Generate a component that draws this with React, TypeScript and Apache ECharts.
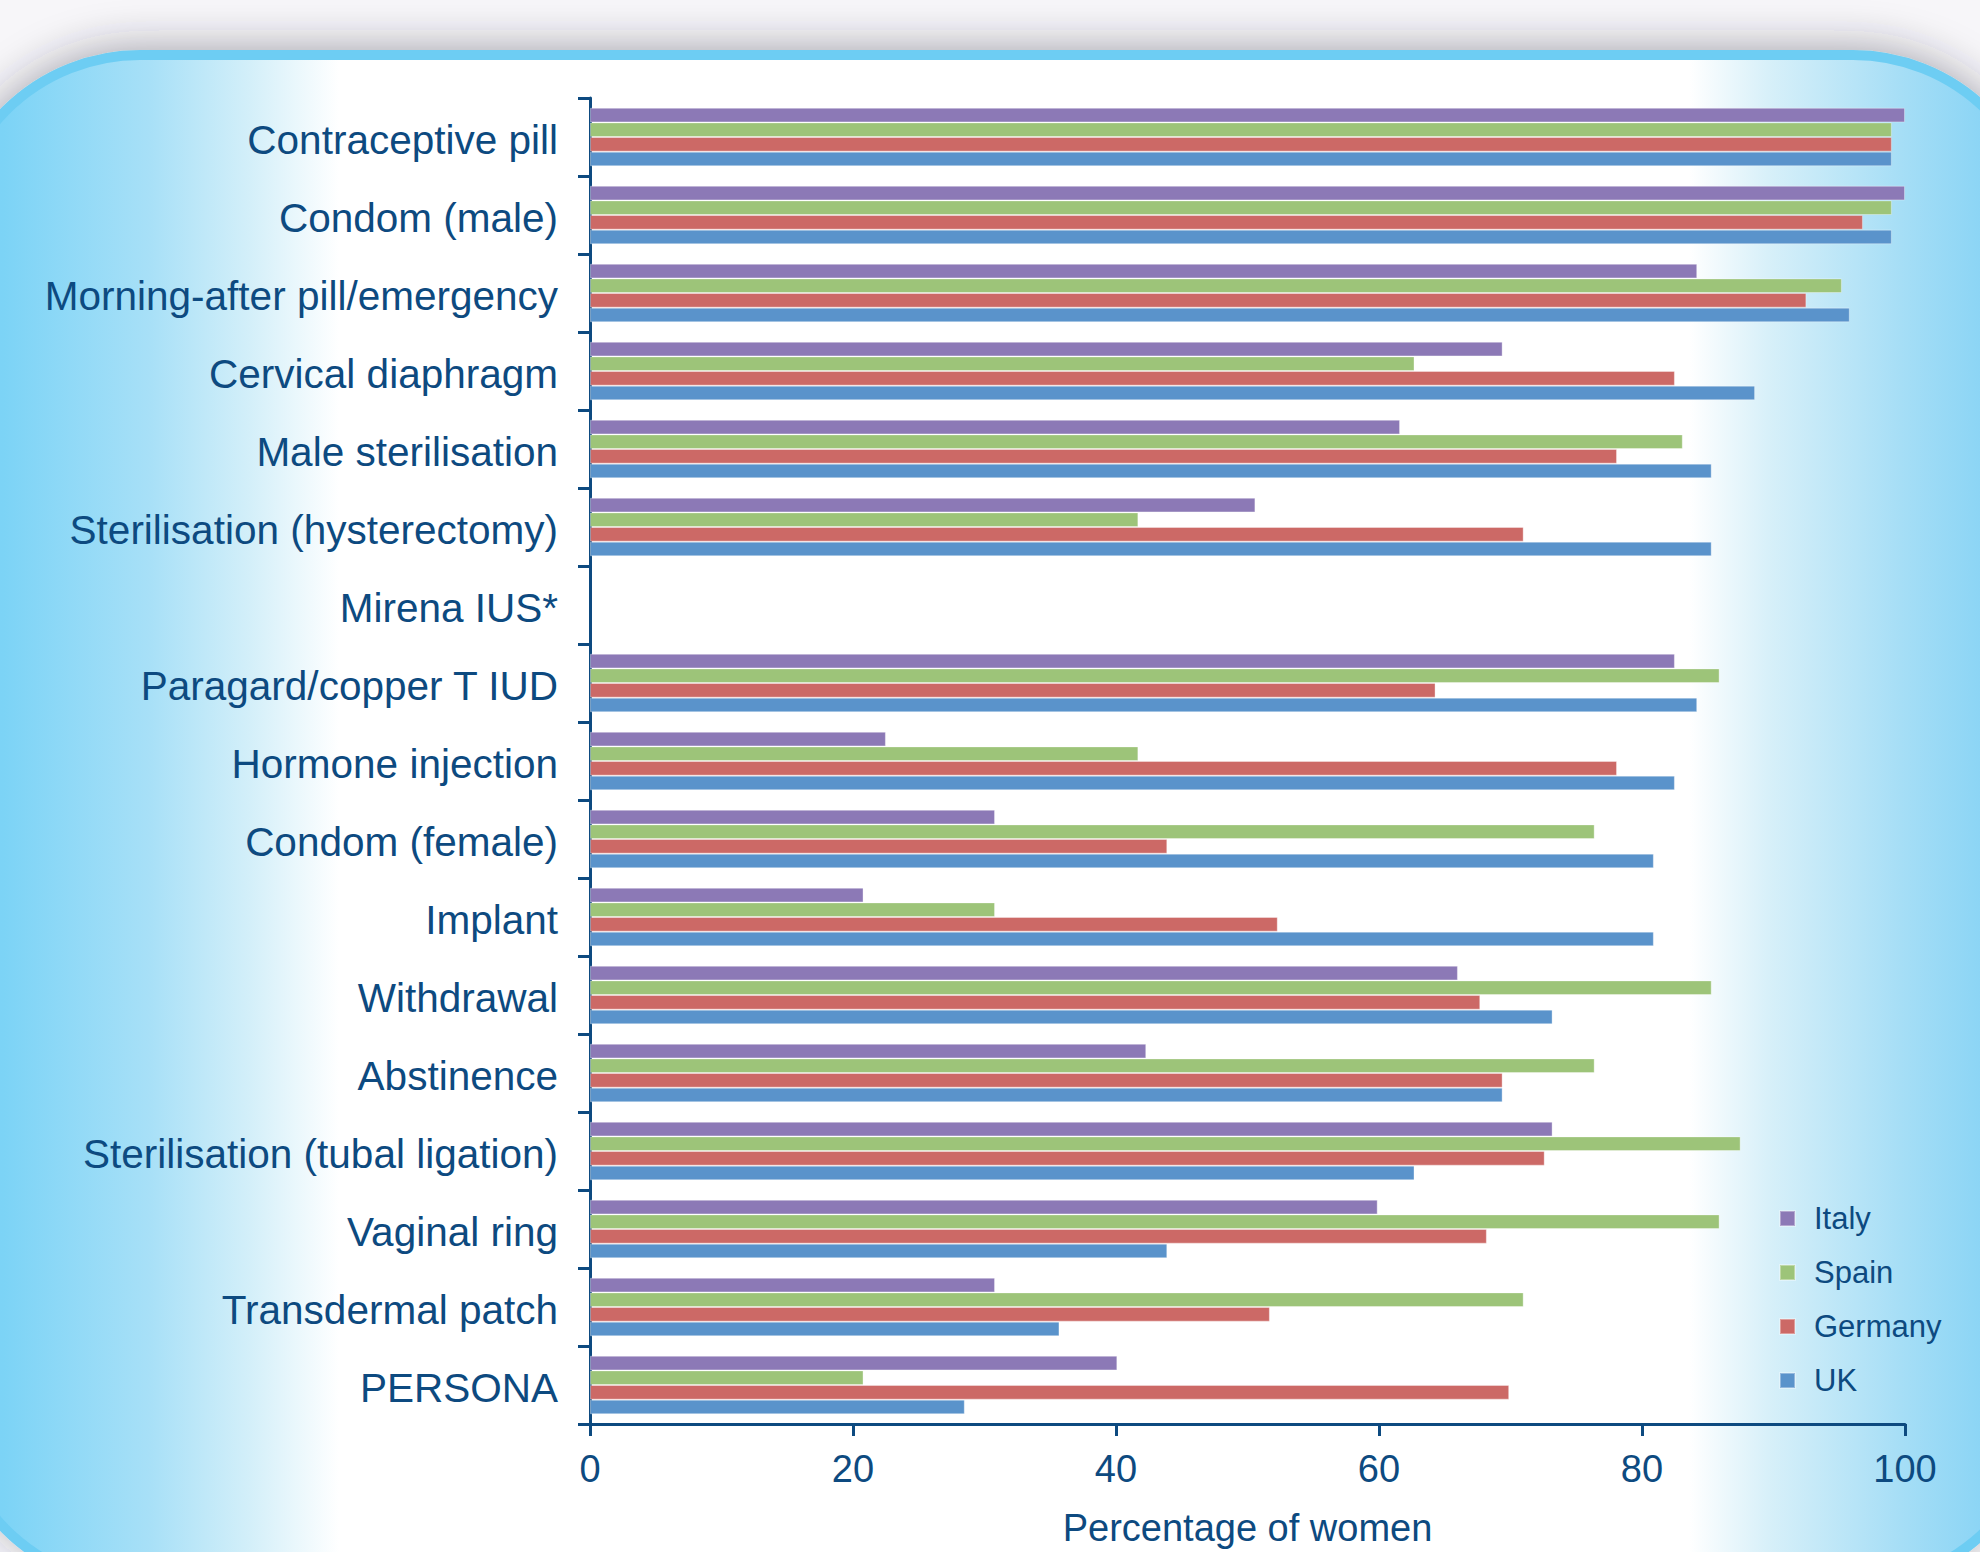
import React, { useEffect, useRef } from "react";
import * as echarts from "echarts";

const categories = [
  "Contraceptive pill",
  "Condom (male)",
  "Morning-after pill/emergency",
  "Cervical diaphragm",
  "Male sterilisation",
  "Sterilisation (hysterectomy)",
  "Mirena IUS*",
  "Paragard/copper T IUD",
  "Hormone injection",
  "Condom (female)",
  "Implant",
  "Withdrawal",
  "Abstinence",
  "Sterilisation (tubal ligation)",
  "Vaginal ring",
  "Transdermal patch",
  "PERSONA",
];

const seriesNames = ["Italy", "Spain", "Germany", "UK"];

const italy = [100, 100, 84.2, 69.4, 61.6, 50.6, null, 82.5, 22.5, 30.8, 20.8, 66.0, 42.3, 73.2, 59.9, 30.8, 40.1];
const spain = [99, 99, 95.2, 62.7, 83.1, 41.7, null, 85.9, 41.7, 76.4, 30.8, 85.3, 76.4, 87.5, 85.9, 71.0, 20.8];
const germany = [99, 96.8, 92.5, 82.5, 78.1, 71.0, null, 64.3, 78.1, 43.9, 52.3, 67.7, 69.4, 72.6, 68.2, 51.7, 69.9];
const uk = [99, 99, 95.8, 88.6, 85.3, 85.3, null, 84.2, 82.5, 80.9, 80.9, 73.2, 69.4, 62.7, 43.9, 35.7, 28.5];

const seriesData = [italy, spain, germany, uk];
const colors = ["#8c79b6", "#9dc479", "#cc6966", "#5a93cb"];

const NAVY = "#0d4a80";
const FONT = "Liberation Sans, Arial, Helvetica, sans-serif";

export default function App() {
  const ref = useRef<HTMLDivElement>(null);

  useEffect(() => {
    if (!ref.current) return;
    const chart = echarts.init(ref.current, null, { renderer: "svg" });
    const option: any = {
      animation: false,
      backgroundColor: "#f7f6f9",
      textStyle: { fontFamily: FONT },
      graphic: [
        {
          type: "rect",
          z: -100,
          silent: true,
          shape: { x: -50, y: 55, width: 2093, height: 1530, r: 190 },
          style: {
            fill: new echarts.graphic.LinearGradient(0, 0, 1, 0, [
              { offset: 0, color: "#74d0f5" },
              { offset: 0.024, color: "#7bd3f6" },
              { offset: 0.096, color: "#a8e0f7" },
              { offset: 0.143, color: "#d3eff9" },
              { offset: 0.186, color: "#ffffff" },
              { offset: 0.831, color: "#ffffff" },
              { offset: 0.868, color: "#d8f0f9" },
              { offset: 0.932, color: "#a6def6" },
              { offset: 0.97, color: "#8cd5f5" },
              { offset: 1, color: "#80d2f5" },
            ]),
            stroke: "#6dcdf3",
            lineWidth: 10,
            shadowBlur: 40,
            shadowColor: "rgba(40,40,60,0.35)",
            shadowOffsetY: -6,
          },
        },
      ],
      legend: {
        orient: "vertical",
        left: 1774,
        top: 1198,
        itemWidth: 15,
        itemHeight: 15,
        itemGap: 23,
        icon: "rect",
        data: seriesNames,
        textStyle: {
          fontSize: 31,
          lineHeight: 31,
          color: NAVY,
          fontFamily: FONT,
          padding: [0, 0, 0, 14],
        },
      },
      grid: { left: 590, right: 75, top: 98, bottom: 128 },
      xAxis: {
        type: "value",
        min: 0,
        max: 100,
        interval: 20,
        name: "Percentage of women",
        nameLocation: "middle",
        nameGap: 85,
        nameTextStyle: { fontSize: 38, color: NAVY, fontFamily: FONT },
        axisLine: { show: true, lineStyle: { color: NAVY, width: 3 } },
        axisTick: { show: true, inside: false, length: 12, lineStyle: { color: NAVY, width: 3 } },
        axisLabel: { fontSize: 38, color: NAVY, margin: 26, fontFamily: FONT },
        splitLine: { show: false },
      },
      yAxis: {
        type: "category",
        inverse: true,
        data: categories,
        axisLine: { show: true, lineStyle: { color: NAVY, width: 3 } },
        axisTick: { show: true, inside: false, length: 12, lineStyle: { color: NAVY, width: 3 } },
        axisLabel: {
          fontSize: 40.5,
          color: NAVY,
          margin: 32,
          fontFamily: FONT,
          verticalAlign: "top",
          lineHeight: 6,
        },
        splitLine: { show: false },
      },
      series: seriesNames.map((name, i) => ({
        name,
        type: "bar",
        data: seriesData[i],
        barGap: "0%",
        barCategoryGap: "25%",
        itemStyle: {
          color: colors[i],
          borderColor: "rgba(255,255,255,0.35)",
          borderWidth: 1,
        },
      })),
    };
    chart.setOption(option);
    return () => chart.dispose();
  }, []);

  return (
    <div
      ref={ref}
      style={{ position: "fixed", left: 0, top: 0, width: 1980, height: 1552 }}
    />
  );
}
